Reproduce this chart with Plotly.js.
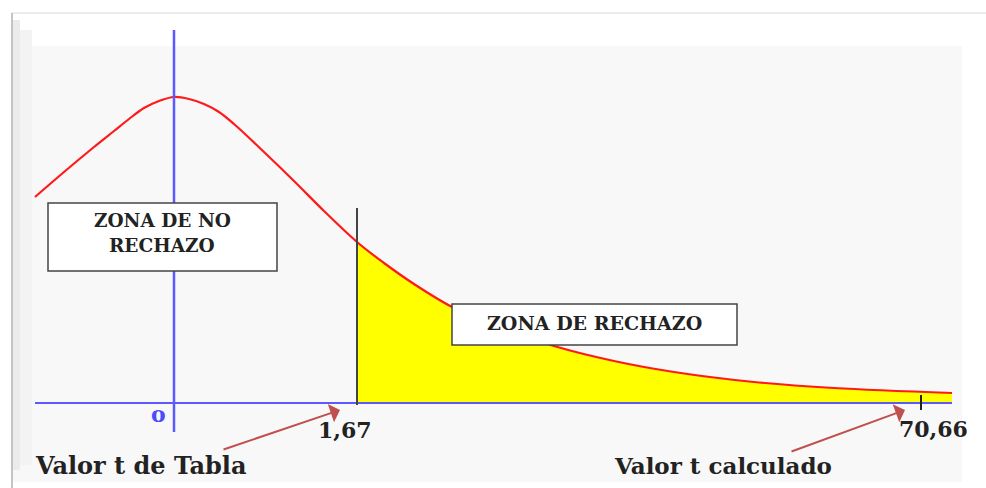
<!DOCTYPE html>
<html>
<head>
<meta charset="utf-8">
<script src="https://cdn.plot.ly/plotly-3.0.1.min.js"></script>
<style>html,body{margin:0;padding:0;background:#fff;}#chart{width:986px;height:488px;}</style>
</head>
<body>
<div id="chart"></div>
<script>
// Schematic t-distribution curve (schematic units)
const curveX = [-1.39, -1.1, -0.8, -0.6, -0.45, -0.3, -0.15, 0, 0.15, 0.3, 0.45, 0.6, 0.9, 1.2, 1.5, 1.83, 2.1, 2.4, 2.8, 3.3, 3.8, 4.4, 5.0, 5.8, 6.6, 7.78];
const curveY = [2.06, 2.31, 2.56, 2.72, 2.84, 2.95, 3.02, 3.06, 3.04, 2.99, 2.91, 2.79, 2.51, 2.22, 1.92, 1.61, 1.40, 1.19, 0.95, 0.74, 0.57, 0.42, 0.31, 0.21, 0.15, 0.10];
// Critical values and their schematic positions on the axis
const tickLabels = ["o", "1,67", "70,66"];
const tickPos = [0, 1.83, 7.47];
const zoneLabels = ["ZONA DE NO<br>RECHAZO", "ZONA DE RECHAZO"];
const arrowLabels = ["Valor t de Tabla", "Valor t calculado"];

const tCrit = tickPos[1];
const fillX = [], fillY = [];
curveX.forEach((x, i) => { if (x >= tCrit) { fillX.push(x); fillY.push(curveY[i]); } });

const serif = "DejaVu Serif, Liberation Serif, serif";

const traces = [
  { x: fillX, y: fillY, type: "scatter", mode: "lines", fill: "tozeroy",
    fillcolor: "#ffff00", line: { color: "rgba(0,0,0,0)", width: 0, shape: "spline", smoothing: 1 }, hoverinfo: "skip" },
  { x: curveX, y: curveY, type: "scatter", mode: "lines",
    line: { color: "#ff1a1a", width: 2.2, shape: "spline", smoothing: 1 }, hoverinfo: "skip" }
];

const P = (px) => px / 986, Q = (py) => 1 - py / 488;

const shapes = [
  // background panel
  { type: "rect", xref: "paper", yref: "paper", x0: P(13), x1: P(962), y0: Q(482), y1: Q(46),
    fillcolor: "#f8f8f8", line: { width: 0 }, layer: "below" },
  { type: "line", xref: "paper", yref: "paper", x0: P(12), x1: P(986), y0: Q(13), y1: Q(13),
    line: { color: "#e6e6e6", width: 1.5 }, layer: "below" },
  { type: "rect", xref: "paper", yref: "paper", x0: P(11), x1: P(13), y0: Q(488), y1: Q(13),
    fillcolor: "#c4c4c4", line: { width: 0 }, layer: "below" },
  { type: "rect", xref: "paper", yref: "paper", x0: P(13), x1: P(20), y0: Q(470), y1: Q(20),
    fillcolor: "#ebebeb", line: { width: 0 }, layer: "below" },
  { type: "rect", xref: "paper", yref: "paper", x0: P(20), x1: P(32), y0: Q(465), y1: Q(30),
    fillcolor: "#f3f3f3", line: { width: 0 }, layer: "below" },
  // horizontal axis
  { type: "line", x0: curveX[0], x1: curveX[curveX.length-1], y0: 0, y1: 0,
    line: { color: "#5a5aff", width: 2 } },
  // vertical axis at 0
  { type: "line", x0: tickPos[0], x1: tickPos[0], y0: -0.29, y1: 3.73,
    line: { color: "#5a5aff", width: 2.5 } },
  // critical value line
  { type: "line", x0: tickPos[1], x1: tickPos[1], y0: -0.02, y1: 1.95,
    line: { color: "#444444", width: 2 } },
  // tick at calculated value
  { type: "line", x0: tickPos[2], x1: tickPos[2], y0: 0.08, y1: -0.07,
    line: { color: "#222222", width: 2 } },
  // label boxes
  { type: "rect", x0: -1.26, x1: 1.03, y0: 1.32, y1: 2.00,
    fillcolor: "#ffffff", line: { color: "#444444", width: 1.5 } },
  { type: "rect", x0: 2.78, x1: 5.63, y0: 0.58, y1: 0.99,
    fillcolor: "#ffffff", line: { color: "#444444", width: 1.5 } }
];

const noZoneLines = zoneLabels[0].split("<br>");

const annotations = [
  { x: -0.12, y: 1.83, text: "<b>" + noZoneLines[0] + "</b>", showarrow: false,
    font: { family: serif, size: 18.5, color: "#222" } },
  { x: -0.12, y: 1.58, text: "<b>" + noZoneLines[1] + "</b>", showarrow: false,
    font: { family: serif, size: 18.5, color: "#222" } },
  { x: 4.20, y: 0.80, text: "<b>" + zoneLabels[1] + "</b>", showarrow: false,
    font: { family: serif, size: 19, color: "#222" } },
  { x: tickPos[0] - 0.16, y: -0.11, text: "<b>" + tickLabels[0] + "</b>", showarrow: false,
    font: { family: serif, size: 22, color: "#4b4bff" } },
  { x: tickPos[1] - 0.12, y: -0.27, text: "<b>" + tickLabels[1] + "</b>", showarrow: false,
    font: { family: serif, size: 22, color: "#222" } },
  { x: tickPos[2] + 0.12, y: -0.26, text: "<b>" + tickLabels[2] + "</b>", showarrow: false,
    font: { family: serif, size: 22, color: "#222" } },
  { x: -0.33, y: -0.62, text: "<b>" + arrowLabels[0] + "</b>", showarrow: false,
    font: { family: serif, size: 24, color: "#222" } },
  { x: 5.49, y: -0.62, text: "<b>" + arrowLabels[1] + "</b>", showarrow: false,
    font: { family: serif, size: 23, color: "#222" } },
  // arrows
  { x: 1.66, y: -0.07, ax: 0.48, ay: -0.47, axref: "x", ayref: "y", text: "", showarrow: true,
    arrowhead: 1, arrowsize: 1.6, arrowwidth: 2, arrowcolor: "#c0504d" },
  { x: 7.31, y: -0.07, ax: 6.16, ay: -0.49, axref: "x", ayref: "y", text: "", showarrow: true,
    arrowhead: 1, arrowsize: 1.6, arrowwidth: 2, arrowcolor: "#c0504d" }
];

const layout = {
  width: 986, height: 488,
  margin: { l: 0, r: 0, t: 0, b: 0 },
  paper_bgcolor: "#ffffff", plot_bgcolor: "rgba(0,0,0,0)",
  showlegend: false,
  xaxis: { range: [-1.74, 8.12], visible: false, fixedrange: true },
  yaxis: { range: [-0.85, 4.03], visible: false, fixedrange: true },
  shapes: shapes, annotations: annotations
};

Plotly.newPlot("chart", traces, layout, { staticPlot: true, displayModeBar: false });
</script>
</body>
</html>
